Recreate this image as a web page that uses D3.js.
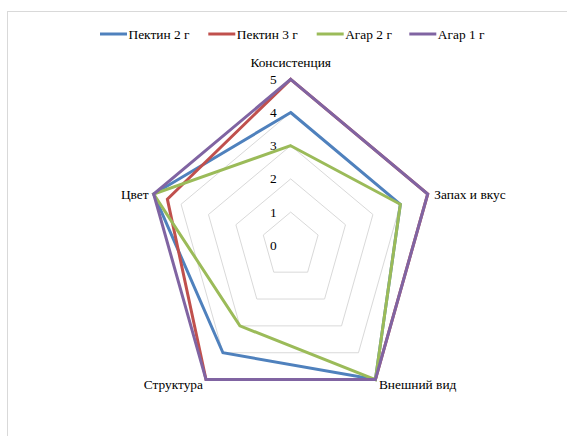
<!DOCTYPE html>
<html>
<head>
<meta charset="utf-8">
<script src="https://cdn.jsdelivr.net/npm/d3@7/dist/d3.min.js"></script>
<style>
  html, body { margin: 0; padding: 0; background: #fff; }
</style>
</head>
<body>
<svg id="chart" width="567" height="436"></svg>
<script>
// Sensory criteria (radar axes), clockwise from the top
const criteria = ["Консистенция", "Запах и вкус", "Внешний вид", "Структура", "Цвет"];

// Scores per sample, in the same order as criteria
const pectin2 = [4, 4, 5, 4, 5];
const pectin3 = [5, 5, 5, 5, 4.5];
const agar2   = [3, 4, 5, 3, 5];
const agar1   = [5, 5, 5, 5, 5];

const seriesNames  = ["Пектин 2 г", "Пектин 3 г", "Агар 2 г", "Агар 1 г"];
const seriesColors = ["#4F81BD", "#C0504D", "#9BBB59", "#8064A2"];
const levels = [0, 1, 2, 3, 4, 5];

const series = [pectin2, pectin3, agar2, agar1].map((values, i) => ({
  name: seriesNames[i], color: seriesColors[i], values
}));

const svg = d3.select("#chart");
const serif = "Liberation Serif";
const fontSize = 13.4;

// outer chart frame
svg.append("rect")
  .attr("x", 7.5).attr("y", 11.5)
  .attr("width", 580).attr("height", 440)
  .attr("fill", "none").attr("stroke", "#d9d9d9").attr("stroke-width", 1);

const cx = 290.7, cy = 245.3;
const rY = d3.scaleLinear().domain([0, 5]).range([0, 166]);
const xStretch = 0.868;
const angle = d3.scalePoint().domain(criteria).range([0, 2 * Math.PI * 4 / 5]);

function pt(c, v) {
  const a = angle(c);
  return [cx + Math.sin(a) * rY(v) * xStretch, cy - Math.cos(a) * rY(v)];
}

const line = d3.line().curve(d3.curveLinearClosed);

// gridline pentagons
svg.append("g").selectAll("path")
  .data(levels.filter(l => l > 0))
  .join("path")
  .attr("d", l => line(criteria.map(c => pt(c, l))))
  .attr("fill", "none")
  .attr("stroke", "#d9d9d9")
  .attr("stroke-width", 1);

// level labels along the top axis
svg.append("g").selectAll("text")
  .data(levels)
  .join("text")
  .attr("x", cx - 14)
  .attr("y", l => pt(criteria[0], l)[1] + 4.5)
  .attr("text-anchor", "end")
  .attr("font-family", serif)
  .attr("font-size", fontSize)
  .text(l => l);

// series polygons
svg.append("g").selectAll("path")
  .data(series)
  .join("path")
  .attr("d", s => line(criteria.map((c, i) => pt(c, s.values[i]))))
  .attr("fill", "none")
  .attr("stroke", s => s.color)
  .attr("stroke-width", 3)
  .attr("stroke-linejoin", "miter");

// criterion labels
const labelPlace = {
  "Консистенция": { dx: 0, dy: -12.5, anchor: "middle" },
  "Запах и вкус": { dx: 6.5, dy: 4.5, anchor: "start" },
  "Внешний вид": { dx: 3.5, dy: 9.5, anchor: "start" },
  "Структура": { dx: -3, dy: 9.5, anchor: "end" },
  "Цвет": { dx: -5, dy: 4.5, anchor: "end" }
};
svg.append("g").selectAll("text")
  .data(criteria)
  .join("text")
  .attr("x", c => pt(c, 5)[0] + labelPlace[c].dx)
  .attr("y", c => pt(c, 5)[1] + labelPlace[c].dy)
  .attr("text-anchor", c => labelPlace[c].anchor)
  .attr("font-family", serif)
  .attr("font-size", fontSize)
  .text(c => c);

// legend
const legendX = [100, 208.3, 316.7, 409.3];
const legend = svg.append("g").selectAll("g")
  .data(series)
  .join("g")
  .attr("transform", (s, i) => `translate(${legendX[i]},34)`);
legend.append("line")
  .attr("x1", 0).attr("x2", 27).attr("y1", 0).attr("y2", 0)
  .attr("stroke", s => s.color).attr("stroke-width", 3);
legend.append("text")
  .attr("x", 28.5).attr("y", 4.5)
  .attr("font-family", serif)
  .attr("font-size", fontSize)
  .text(s => s.name);
</script>
</body>
</html>
